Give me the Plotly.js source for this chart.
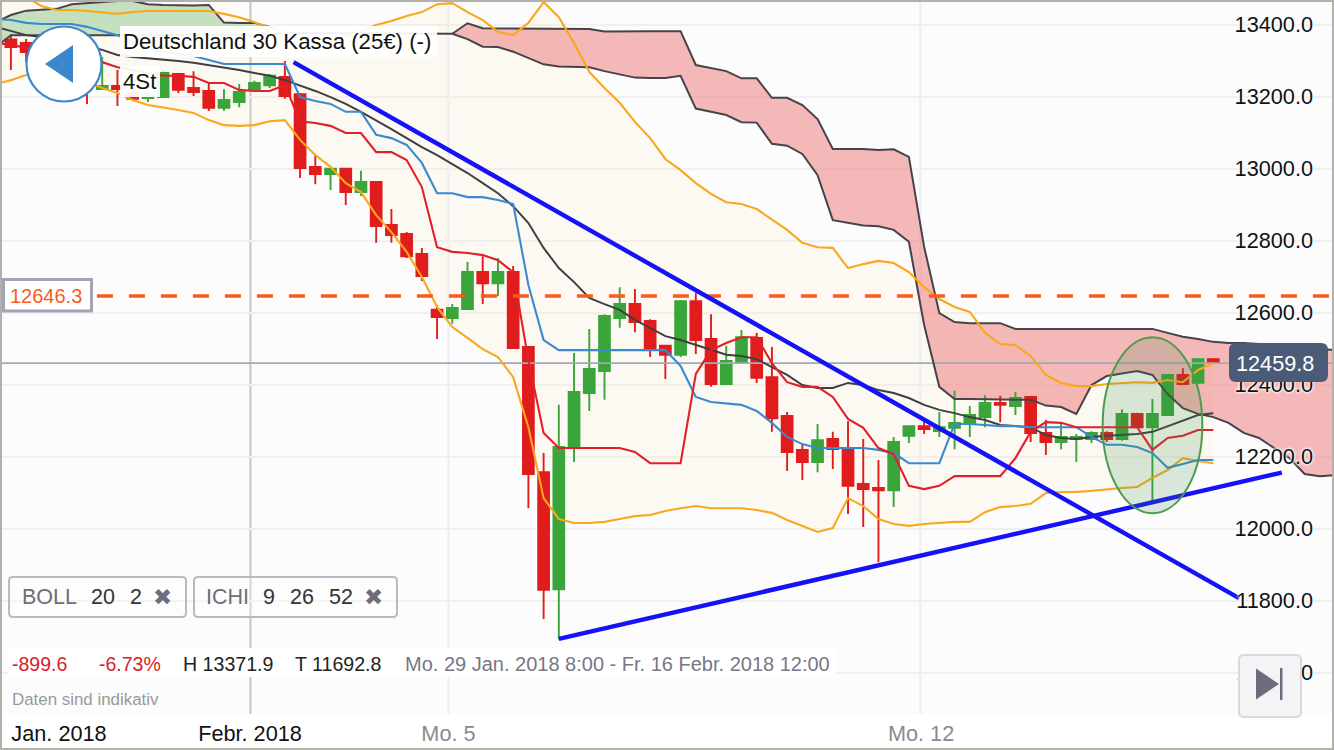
<!DOCTYPE html>
<html><head><meta charset="utf-8">
<script src="https://cdn.plot.ly/plotly-3.0.0.min.js"></script>
<style>html,body{margin:0;padding:0;background:#fff}#c{width:1334px;height:750px}</style>
</head><body><div id="c"></div>
<script>
// ---- data ----
const open_ = [13359,13349,13344,13274,13296,13269,13221,13230,13210,13196,
 13199,13263,13224,13216,13169,13185,13221,13232,13255,13207,
 13005,12985,13000,12935,12963,12844,12819,12763,12608,12585,
 12610,12713,12682,12713,12505,12157,11832,12227,12377,12438,
 12585,12624,12577,12508,12483,12632,12527,12402,12460,12530,
 12421,12313,12219,12185,12249,12224,12124,12113,12107,12258,
 12285,12271,12280,12291,12310,12349,12341,12366,12266,12241,
 12249,12249,12266,12249,12319,12282,12316,12427,12405,12471];
const high = [13371.9,13360,13358,13316,13307,13285,13310,13274,13232,13213,
 13269,13266,13271,13238,13221,13235,13244,13263,13299,13210,
 13038,13000,13002,12994,12963,12888,12824,12780,12621,12624,
 12741,12757,12752,12730,12505,12210,12344,12488,12555,12596,
 12671,12666,12582,12510,12635,12655,12596,12508,12552,12544,
 12505,12324,12233,12291,12269,12299,12249,12191,12255,12285,
 12307,12324,12383,12341,12371,12369,12380,12366,12302,12291,
 12263,12271,12271,12332,12322,12360,12430,12446,12474,12474];
const low = [13274,13296,13280,13260,13241,13180,13219,13174,13188,13185,
 13199,13210,13202,13160,13160,13171,13219,13224,13194,12974,
 12957,12941,12899,12924,12794,12794,12752,12688,12527,12569,
 12608,12624,12646,12502,12057,11749,11692.8,12185,12327,12358,
 12558,12546,12477,12416,12477,12485,12394,12402,12460,12405,
 12269,12160,12135,12157,12166,12041,12005,11907,12060,12238,
 12263,12255,12221,12255,12282,12296,12316,12241,12205,12221,
 12185,12238,12241,12244,12282,12074,12316,12399,12402,12458];
const close_ = [13338,13324,13302,13302,13260,13224,13230,13221,13194,13205,
 13266,13219,13213,13169,13191,13213,13238,13258,13202,13002,
 12985,13000,12935,12963,12841,12816,12757,12702,12588,12613,
 12713,12682,12713,12502,12152,11830,12227,12380,12444,12591,
 12624,12574,12502,12483,12632,12524,12402,12466,12532,12419,
 12307,12213,12185,12246,12221,12119,12110,12107,12241,12285,
 12277,12282,12294,12316,12349,12344,12363,12266,12241,12255,
 12255,12266,12249,12319,12282,12319,12427,12402,12471,12459.8];

const kijun = [13416,
 13413,13405,13402,13402,13402,13394,13383,13371,13352,13335,
 13324,13319,13313,13302,13291,13291,13291,13291,13291,13199,
 13188,13180,13158,13158,13094,13085,13066,13016,12932,12932,
 12921,12921,12913,12902,12677,12524,12496,12496,12496,12496,
 12496,12496,12496,12496,12452,12366,12352,12349,12344,12327,
 12294,12255,12235,12224,12224,12224,12224,12219,12210,12182,
 12182,12182,12291,12291,12288,12285,12285,12282,12282,12282,
 12282,12255,12233,12233,12227,12210,12169,12180,12191,12191];
const tenkan = [13350,
 13344,13338,13330,13321,13313,13302,13296,13282,13274,13266,
 13258,13258,13255,13238,13238,13219,13216,13216,13232,13132,
 13127,13119,13099,13099,13046,13046,13024,12949,12782,12769,
 12766,12760,12746,12713,12469,12266,12224,12224,12224,12224,
 12224,12213,12182,12182,12182,12430,12496,12516,12532,12532,
 12460,12407,12394,12394,12366,12305,12280,12224,12207,12119,
 12110,12119,12146,12146,12146,12146,12196,12269,12296,12294,
 12282,12282,12282,12282,12282,12219,12252,12258,12274,12274];
const bollMid = [13394,
 13383,13371,13366,13358,13349,13341,13330,13316,13310,13307,
 13302,13299,13294,13288,13282,13274,13266,13258,13246,13232,
 13216,13199,13180,13158,13135,13110,13085,13060,13038,13013,
 12988,12960,12932,12896,12849,12780,12724,12685,12641,12624,
 12608,12580,12558,12535,12524,12510,12496,12483,12480,12471,
 12449,12427,12399,12391,12391,12405,12399,12385,12377,12363,
 12344,12330,12321,12310,12302,12288,12285,12282,12260,12252,
 12249,12255,12258,12260,12263,12269,12285,12302,12316,12321];
const bollUp = [13530,
 13510,13477,13452,13441,13441,13438,13433,13430,13435,13438,
 13438,13438,13438,13438,13430,13421,13407,13391,13377,13358,
 13349,13355,13366,13383,13399,13410,13424,13435,13457,13460,
 13435,13413,13380,13371,13405,13463,13421,13349,13269,13224,
 13183,13130,13085,13027,12996,12960,12930,12907,12902,12888,
 12858,12830,12794,12782,12780,12724,12735,12744,12738,12713,
 12671,12638,12616,12602,12544,12513,12510,12480,12427,12405,
 12396,12396,12402,12405,12407,12405,12413,12407,12441,12460];
const bollLow = [13235,
 13246,13260,13269,13269,13258,13241,13224,13210,13191,13177,
 13171,13163,13155,13135,13121,13119,13121,13132,13135,13080,
 13038,13005,12960,12935,12871,12824,12769,12699,12616,12560,
 12530,12499,12477,12421,12282,12085,12027,12016,12016,12019,
 12027,12035,12038,12049,12057,12063,12057,12057,12057,12052,
 12044,12024,12008,11991,12002,12085,12063,12027,12013,12008,
 12013,12016,12019,12019,12046,12060,12063,12069,12099,12102,
 12102,12105,12110,12113,12116,12141,12163,12196,12188,12182];

// Kumo left part, bar -1 to 18
const greenTop = [13407,13427,13439,13441,13444,13457,13460,13463,13466,13466,
 13457,13455,13453,13453,13455,13406,13405,13405,13394,13377];
const greenBot = [13338,13371,13371,13371,13371,13371,13371,13371,13369,13369,
 13369,13369,13369,13369,13369,13371,13371,13371,13371,13377];
// single span, bar 18 to 29
const spanFlat = [13377,13377,13377,13377,13377,13377,13377,13377,13377,13377,13377,13375];
// Kumo right part, bar 29 to 87
const redTop = [13375,13404,13390,13390,13388,13388,13388,13388,13388,13388,13381,
 13382,13382,13382,13382,13382,13288,13280,13271,13251,13251,
 13197,13197,13177,13138,13055,13055,13055,13052,13054,13033,
 12783,12599,12574,12571,12571,12571,12555,12555,12555,12555,
 12555,12555,12555,12555,12555,12555,12544,12533,12527,12519,
 12516,12516,12513,12510,12507,12505,12499,12496];
const redBot = [13375,13360,13339,13338,13325,13307,13290,13284,13282,13282,13271,
 13263,13253,13252,13252,13258,13167,13158,13149,13129,13128,
 13069,13064,13041,12982,12857,12850,12842,12840,12830,12797,
 12566,12394,12360,12360,12360,12360,12360,12358,12342,12338,
 12319,12399,12424,12432,12438,12427,12374,12335,12319,12310,
 12294,12266,12252,12224,12196,12152,12146,12149];

// Drawn trend lines and marks
const trendDownX = [18.57, 80.69], trendDownY = [13296, 11807];
const trendUpX = [36, 83.5], trendUpY = [11694, 12156];
const ellipseX = [71.73, 78.28], ellipseY = [12043, 12532];
const lastPrice = 12459.8, markedPrice = 12646.3;
const dashX = [5.65, 87];
const fullX = [-1, 87];
const yTicks = [11600,11800,12000,12200,12400,12600,12800,13000,13200,13400];
const xTickVals = [3.16, 15.71, 28.75, 59.8];
const xTickText = ['Jan. 2018','Febr. 2018','<span style="color:#8a8a8a">Mo. 5</span>','<span style="color:#8a8a8a">Mo. 12</span>'];
const monthLines = [15.74];
const dayLines = [28.75, 59.75];

// ---- helpers ----
const W = 1334, H = 750;
const range = (a,b)=>{const r=[];for(let i=a;i<=b;i++)r.push(i);return r;};
const px = v=>v/W, py = v=>1-v/H;
const FONT = '"Liberation Sans", Arial, sans-serif';

function rr(x0,y0,x1,y1,r,fill,line,lw){
  const p=(x,y)=>px(x)+','+py(y);
  return {type:'path',xref:'paper',yref:'paper',layer:'above',fillcolor:fill,
    line:{color:line||'rgba(0,0,0,0)',width:lw||0},
    path:'M'+p(x0+r,y0)+' L'+p(x1-r,y0)+' Q'+p(x1,y0)+' '+p(x1,y0+r)+' L'+p(x1,y1-r)+' Q'+p(x1,y1)+' '+p(x1-r,y1)+
      ' L'+p(x0+r,y1)+' Q'+p(x0,y1)+' '+p(x0,y1-r)+' L'+p(x0,y0+r)+' Q'+p(x0,y0)+' '+p(x0+r,y0)+' Z'};
}
function poly(pts,fill){
  return {type:'path',xref:'paper',yref:'paper',layer:'above',fillcolor:fill,line:{width:0},
    path:'M'+pts.map(a=>px(a[0])+','+py(a[1])).join(' L')+' Z'};
}
function ann(text,x,y,size,color,anchor,family){
  return {text:text,xref:'paper',yref:'paper',x:px(x),y:py(y),xanchor:anchor||'left',yanchor:'middle',
    showarrow:false,font:{family:family||FONT,size:size,color:color},borderpad:0,borderwidth:0};
}

// ---- traces ----
const barIdx = range(0,79), lineIdx = range(-1,79);
const line = (x,y,color,width,extra)=>Object.assign({type:'scatter',mode:'lines',x:x,y:y,yaxis:'y3',
  line:{color:color,width:width},hoverinfo:'skip'},extra||{});
const fillPair = (x,a,b,color)=>[
  {type:'scatter',mode:'lines',x:x,y:a,line:{width:0,color:'rgba(0,0,0,0)'},hoverinfo:'skip'},
  {type:'scatter',mode:'lines',x:x,y:b,line:{width:0,color:'rgba(0,0,0,0)'},fill:'tonexty',fillcolor:color,hoverinfo:'skip'}];

const dark='#474349', orange='#f9a81e', red='#e2202a', blue='#3b8ad0', candleRed='#e01c1c', candleGreen='#3aa53a', trend='#1612f8';
const greenX = range(-1,18), flatX = range(18,29), redX = range(29,87);
const data = [
  ...fillPair(lineIdx,bollUp,bollLow,'rgba(255,236,190,0.16)'),
  ...fillPair(greenX,greenTop,greenBot,'#c5e0be'),
  ...fillPair(redX,redTop,redBot,'rgba(236,128,128,0.55)'),
  {type:'candlestick',x:barIdx,open:open_,high:high,low:low,close:close_,yaxis:'y2',hoverinfo:'skip',whiskerwidth:0,
   increasing:{line:{color:candleGreen,width:1.9},fillcolor:candleGreen},
   decreasing:{line:{color:candleRed,width:1.9},fillcolor:candleRed}},
  line(fullX,[lastPrice,lastPrice],'#a2aaba',1.6),
  line(greenX,greenTop,dark,2), line(greenX,greenBot,dark,2), line(flatX,spanFlat,dark,2),
  line(redX,redTop,dark,2), line(redX,redBot,dark,2),
  line(lineIdx,bollMid,'#3f3f42',2),
  line(lineIdx,bollUp,orange,2.1), line(lineIdx,bollLow,orange,2.1),
  line(lineIdx,kijun,blue,2.1), line(lineIdx,tenkan,red,2.1),
  line(dashX,[markedPrice,markedPrice],'#f75b1e',3.4,{line:{color:'#f75b1e',width:3.4,dash:'16px,16px'}}),
  line(trendDownX,trendDownY,trend,4.4), line(trendUpX,trendUpY,trend,4.4)
];

// ---- layout ----
const shapes = [
  {type:'rect',xref:'paper',yref:'paper',x0:0,x1:1,y0:0,y1:py(714),layer:'below',fillcolor:'#ffffff',line:{width:0}},
  ...monthLines.map(x=>({type:'line',xref:'x',yref:'paper',x0:x,x1:x,y0:py(714),y1:1,layer:'below',line:{color:'#c9c9c9',width:2.2}})),
  ...dayLines.map(x=>({type:'line',xref:'x',yref:'paper',x0:x,x1:x,y0:py(714),y1:1,layer:'below',line:{color:'#eceef6',width:2.2}})),
  {type:'circle',xref:'x',yref:'y',x0:ellipseX[0],x1:ellipseX[1],y0:ellipseY[0],y1:ellipseY[1],layer:'above',
   fillcolor:'rgba(60,140,70,0.18)',line:{color:'#4c9c50',width:2}},
  // stat row and axis label backings
  {type:'rect',xref:'paper',yref:'paper',x0:px(8),x1:px(836),y0:py(677),y1:py(648),layer:'above',fillcolor:'rgba(255,255,255,0.95)',line:{width:0}},
  {type:'rect',xref:'paper',yref:'paper',x0:px(120),x1:px(437),y0:py(57),y1:py(26),layer:'above',fillcolor:'rgba(255,255,255,0.93)',line:{width:0}},
  {type:'rect',xref:'paper',yref:'paper',x0:px(120),x1:px(160),y0:py(97),y1:py(66),layer:'above',fillcolor:'rgba(255,255,255,0.93)',line:{width:0}},
  // back button
  {type:'circle',xref:'paper',yref:'paper',x0:px(26.5),x1:px(101.5),y0:py(101.5),y1:py(26.5),layer:'above',fillcolor:'#ffffff',line:{color:'#4088cc',width:2.2}},
  poly([[45,64],[73,45],[73,83]],'#3b87cc'),
  // marked price tag
  {type:'rect',xref:'paper',yref:'paper',x0:px(3.5),x1:px(91.5),y0:py(311),y1:py(279.5),layer:'above',fillcolor:'#ffffff',line:{color:'#a3a3b3',width:3}},
  // indicator chips
  rr(9,577,186,617,4,'rgba(255,255,255,0.25)','#b9b9c2',2),
  rr(194,577,397,617,4,'rgba(255,255,255,0.25)','#b9b9c2',2),
  // last price tag
  rr(1229,343,1328,382,7,'#4a5b78'),
  // jump button
  rr(1239,655,1301,717,5,'#f4f4f6','#d9d9df',2),
  poly([[1256,668.5],[1279,684],[1256,699.5]],'#6c6c7c'),
  poly([[1280,668],[1282.5,668],[1282.5,700],[1280,700]],'#6c6c7c'),
  // frame
  {type:'rect',xref:'paper',yref:'paper',x0:0,x1:1,y0:0,y1:1,layer:'above',line:{color:'#b1b1a9',width:4}}
];

const annotations = [
  ann('Deutschland 30 Kassa (25€) (-)',123,41.5,22.2,'#111'),
  ann('4St',123,82,22.2,'#111'),
  ann('12646.3',10,295.5,20,'#f75b1e'),
  ann('12459.8',1236,363,21.7,'#ffffff'),
  ann('BOLL',22,596.5,21.5,'#6e6e7a'),
  ann('20',91,596.5,21.5,'#333338'),
  ann('2',130,596.5,21.5,'#333338'),
  ann('✖',162.5,596.5,23,'#6e6e7a','center','"DejaVu Sans"'),
  ann('ICHI',206,596.5,21.5,'#6e6e7a'),
  ann('9',263,596.5,21.5,'#333338'),
  ann('26',290,596.5,21.5,'#333338'),
  ann('52',329,596.5,21.5,'#333338'),
  ann('✖',373,596.5,23,'#6e6e7a','center','"DejaVu Sans"'),
  ann('-899.6',12,664,19.5,'#d8202a'),
  ann('-6.73%',99,664,19.5,'#d8202a'),
  ann('H 13371.9',183,664,19.6,'#222'),
  ann('T 11692.8',295,664,19.6,'#222'),
  ann('Mo. 29 Jan. 2018 8:00 - Fr. 16 Febr. 2018 12:00',405,664,20,'#777786'),
  ann('Daten sind indikativ',12,699,16.9,'#999999')
];

const yr = [11385.3, 13468.6];
const layout = {
  width:W, height:H, margin:{l:0,r:0,t:0,b:0}, showlegend:false,
  paper_bgcolor:'#fcfcfc', plot_bgcolor:'rgba(0,0,0,0)', boxgap:0.29, boxgroupgap:0,
  font:{family:FONT},
  xaxis:{type:'linear',range:[-0.716,86.93],showgrid:false,zeroline:false,showline:false,ticks:'',
    tickmode:'array',tickvals:xTickVals,ticktext:xTickText,ticklabelposition:'inside',ticklabelstandoff:2,
    tickfont:{family:FONT,size:21.7,color:'#111'},rangeslider:{visible:false},fixedrange:true},
  yaxis:{range:yr,showticklabels:false,ticks:'',showline:false,zeroline:false,fixedrange:true,
    tickmode:'array',tickvals:yTicks,showgrid:true,gridcolor:'#f0f0f0',gridwidth:2},
  yaxis2:{range:yr,overlaying:'y',visible:false,fixedrange:true},
  yaxis3:{range:yr,overlaying:'y',side:'right',showgrid:false,zeroline:false,showline:false,ticks:'',fixedrange:true,
    tickmode:'array',tickvals:yTicks,tickformat:'.1f',ticklabelposition:'inside',ticklabelstandoff:18,
    tickfont:{family:FONT,size:21.7,color:'#111',shadow:'0 0 3px #fff, 0 0 3px #fff, 0 0 3px #fff'}},
  shapes:shapes, annotations:annotations
};
Plotly.newPlot('c',data,layout,{staticPlot:true,displayModeBar:false});
</script></body></html>
